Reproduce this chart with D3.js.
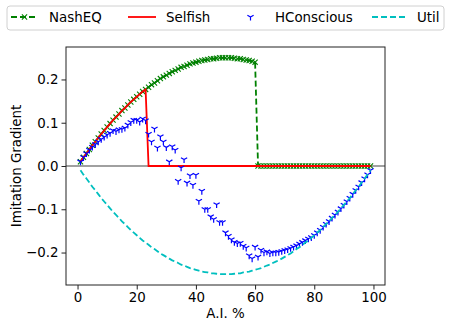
<!DOCTYPE html>
<html>
<head>
<meta charset="utf-8">
<script src="https://cdn.jsdelivr.net/npm/d3@7"></script>
<style>
  body { margin: 0; background: #fff; }
  text { font-family: "DejaVu Sans", sans-serif; fill: #000; }
</style>
</head>
<body>
<div id="area"></div>
<script>
// A.I. % (x axis)
var aiPct = [1,2,3,4,5,6,7,8,9,10,11,12,13,14,15,16,17,18,19,20,21,22,23,24,25,26,27,28,29,30,
  31,32,33,34,35,36,37,38,39,40,41,42,43,44,45,46,47,48,49,50,51,52,53,54,55,56,57,58,59,60,
  61,62,63,64,65,66,67,68,69,70,71,72,73,74,75,76,77,78,79,80,81,82,83,84,85,86,87,88,89,90,
  91,92,93,94,95,96,97,98,99];

var nashEQ = [.010,.020,.029,.038,.048,.056,.065,.074,.082,.090,.098,.106,.113,.120,.128,.134,.141,.148,.154,.160,
  .166,.172,.177,.182,.188,.192,.197,.202,.206,.210,.214,.218,.221,.224,.228,.230,.233,.236,.238,.240,
  .242,.244,.245,.246,.248,.248,.249,.250,.250,.250,.250,.250,.249,.248,.248,.246,.245,.244,.242,.240,
  0,0,0,0,0,0,0,0,0,0,0,0,0,0,0,0,0,0,0,0,0,0,0,0,0,0,0,0,0,0,0,0,0,0,0,0,0,0,0];

var selfish = [.010,.020,.029,.038,.048,.056,.065,.074,.082,.090,.098,.106,.113,.120,.128,.134,.141,.148,.154,.160,
  .166,.172,.177,
  0,0,0,0,0,0,0,0,0,0,0,0,0,0,0,0,0,0,0,0,0,0,0,0,0,0,0,0,0,0,0,0,0,0,0,0,0,0,0,0,0,0,0,0,0,0,0,0,
  0,0,0,0,0,0,0,0,0,0,0,0,0,0,0,0,0,0,0,0,0,0,0,0,0,0,0,0,0,0,0,0,0,0,0,0];

var hConscious = [.010,.020,.029,.037,.044,.050,.056,.062,.067,.072,.076,.082,.080,.084,.085,.088,.095,.101,.106,.106,
  .102,.109,.105,.074,.056,.086,.042,.068,.056,.043,.010,.045,.037,-.035,-.004,.015,-.039,-.022,-.044,-.021,
  -.081,-.058,-.100,-.100,-.117,-.123,-.089,-.130,-.130,-.154,-.162,-.170,-.176,-.179,-.178,-.185,-.189,-.207,-.214,-.187,
  -.210,-.194,-.200,-.198,-.202,-.200,-.200,-.199,-.197,-.195,-.193,-.190,-.187,-.184,-.180,-.176,-.172,-.168,-.165,-.160,
  -.154,-.148,-.141,-.134,-.128,-.120,-.113,-.106,-.098,-.090,-.082,-.074,-.065,-.056,-.048,-.038,-.029,-.020,-.010];

var util = [-.010,-.020,-.029,-.038,-.048,-.056,-.065,-.074,-.082,-.090,-.098,-.106,-.113,-.120,-.128,-.134,-.141,-.148,-.154,-.160,
  -.166,-.172,-.177,-.182,-.188,-.192,-.197,-.202,-.206,-.210,-.214,-.218,-.221,-.224,-.228,-.230,-.233,-.236,-.238,-.240,
  -.242,-.244,-.245,-.246,-.248,-.248,-.249,-.250,-.250,-.250,-.250,-.250,-.249,-.248,-.248,-.246,-.245,-.244,-.242,-.240,
  -.238,-.236,-.233,-.230,-.228,-.224,-.221,-.218,-.214,-.210,-.206,-.202,-.197,-.192,-.188,-.182,-.177,-.172,-.166,-.160,
  -.154,-.148,-.141,-.134,-.128,-.120,-.113,-.106,-.098,-.090,-.082,-.074,-.065,-.056,-.048,-.038,-.029,-.020,-.010];

var xTicks = [0, 20, 40, 60, 80, 100];
var yTicks = [-0.2, -0.1, 0.0, 0.1, 0.2];
var seriesNames = ["NashEQ", "Selfish", "HConscious", "Util"];

var width = 451, height = 327;
var margin = {top: 47, right: 66, bottom: 42, left: 66};
var plotW = width - margin.left - margin.right,
    plotH = height - margin.top - margin.bottom;
var fontPx = '13.4px';

var svg = d3.select('#area').append('svg')
            .attr('width', width)
            .attr('height', height);

var g = svg.append('g')
           .attr('transform', 'translate(' + margin.left + ',' + margin.top + ')');

var x = d3.scaleLinear().domain([-3.9, 103.9]).range([0, plotW]);
var y = d3.scaleLinear().domain([-0.275, 0.275]).range([plotH, 0]);

var fmtY = function(d) { return d3.format('.1f')(d).replace('-', '\u2212'); };

var xAxis = d3.axisBottom(x).tickValues(xTicks).tickSize(4.5).tickPadding(3);
var yAxis = d3.axisLeft(y).tickValues(yTicks).tickSize(4.5).tickPadding(3).tickFormat(fmtY);

svg.append('defs').append('clipPath').attr('id', 'clip')
   .append('rect').attr('x', -4).attr('y', -4).attr('width', plotW + 8).attr('height', plotH + 8);

var plot = g.append('g').attr('clip-path', 'url(#clip)');

// zero line
plot.append('line')
    .attr('x1', 0).attr('x2', plotW)
    .attr('y1', y(0)).attr('y2', y(0))
    .attr('stroke', '#808080').attr('stroke-width', 1.5);

function lineOf(vals) {
  return d3.line().x(function(d, i) { return x(aiPct[i]); })
                  .y(function(d) { return y(d); })(vals);
}
function xMark(cx, cy, s) {
  return 'M' + (cx - s) + ',' + (cy - s) + 'L' + (cx + s) + ',' + (cy + s) +
         'M' + (cx - s) + ',' + (cy + s) + 'L' + (cx + s) + ',' + (cy - s);
}
function triDown(cx, cy, s) {
  return 'M' + cx + ',' + cy + 'L' + cx + ',' + (cy + s) +
         'M' + cx + ',' + cy + 'L' + (cx - s * 0.866) + ',' + (cy - s * 0.5) +
         'M' + cx + ',' + cy + 'L' + (cx + s * 0.866) + ',' + (cy - s * 0.5);
}

// NashEQ
plot.append('path').attr('d', lineOf(nashEQ))
    .attr('fill', 'none').attr('stroke', 'green').attr('stroke-width', 1.8)
    .attr('stroke-dasharray', '6,3');
plot.selectAll('.nx').data(nashEQ).enter().append('path')
    .attr('class', 'nx')
    .attr('d', function(d, i) { return xMark(x(aiPct[i]), y(d), 2.6); })
    .attr('stroke', 'green').attr('stroke-width', 1.1);

// Selfish
plot.append('path').attr('d', lineOf(selfish))
    .attr('fill', 'none').attr('stroke', 'red').attr('stroke-width', 1.8);

// HConscious
plot.selectAll('.hc').data(hConscious).enter().append('path')
    .attr('class', 'hc')
    .attr('d', function(d, i) { return triDown(x(aiPct[i]), y(d), 3.6); })
    .attr('stroke', 'blue').attr('stroke-width', 1.2).attr('fill', 'none');

// Util
plot.append('path').attr('d', lineOf(util))
    .attr('fill', 'none').attr('stroke', '#00bfbf').attr('stroke-width', 1.8)
    .attr('stroke-dasharray', '6,3');

// axes
var gx = g.append('g').attr('transform', 'translate(0,' + plotH + ')').call(xAxis);
var gy = g.append('g').call(yAxis);
[gx, gy].forEach(function(a) {
  a.select('.domain').remove();
  a.selectAll('text').style('font-size', fontPx).attr('fill', '#000')
   .style('font-family', '"DejaVu Sans", sans-serif');
  a.selectAll('line').attr('stroke', '#222').attr('stroke-width', 1);
});

g.append('rect').attr('width', plotW).attr('height', plotH)
 .attr('fill', 'none').attr('stroke', '#222').attr('stroke-width', 1);

// axis labels
svg.append('text')
   .attr('x', margin.left + plotW / 2).attr('y', 318)
   .attr('text-anchor', 'middle').style('font-size', fontPx)
   .text('A.I. %');
svg.append('text')
   .attr('transform', 'translate(21,' + (margin.top + plotH / 2) + ') rotate(-90)')
   .attr('text-anchor', 'middle').style('font-size', fontPx)
   .text('Imitation Gradient');

// legend
var legend = svg.append('g');
legend.append('rect')
      .attr('x', 7).attr('y', 6).attr('width', 437).attr('height', 24)
      .attr('rx', 3).attr('fill', '#fff').attr('stroke', '#d0d0d0');
var legX = [11, 128, 237, 372];
var textX = [49, 166, 275, 417];
var ly = 17;
seriesNames.forEach(function(name, i) {
  var hx = legX[i];
  if (i === 0) {
    legend.append('line').attr('x1', hx).attr('x2', hx + 27).attr('y1', ly).attr('y2', ly)
          .attr('stroke', 'green').attr('stroke-width', 1.8).attr('stroke-dasharray', '6,3');
    legend.append('path').attr('d', xMark(hx + 13.5, ly, 2.6))
          .attr('stroke', 'green').attr('stroke-width', 1.1);
  } else if (i === 1) {
    legend.append('line').attr('x1', hx).attr('x2', hx + 28).attr('y1', ly).attr('y2', ly)
          .attr('stroke', 'red').attr('stroke-width', 1.8);
  } else if (i === 2) {
    legend.append('path').attr('d', triDown(hx + 13.5, ly, 3.6))
          .attr('stroke', 'blue').attr('stroke-width', 1.2).attr('fill', 'none');
  } else {
    legend.append('line').attr('x1', hx).attr('x2', hx + 33).attr('y1', ly).attr('y2', ly)
          .attr('stroke', '#00bfbf').attr('stroke-width', 1.8).attr('stroke-dasharray', '6,3');
  }
  legend.append('text').attr('x', textX[i]).attr('y', ly + 4.5)
        .style('font-size', fontPx).text(name);
});
</script>
</body>
</html>
